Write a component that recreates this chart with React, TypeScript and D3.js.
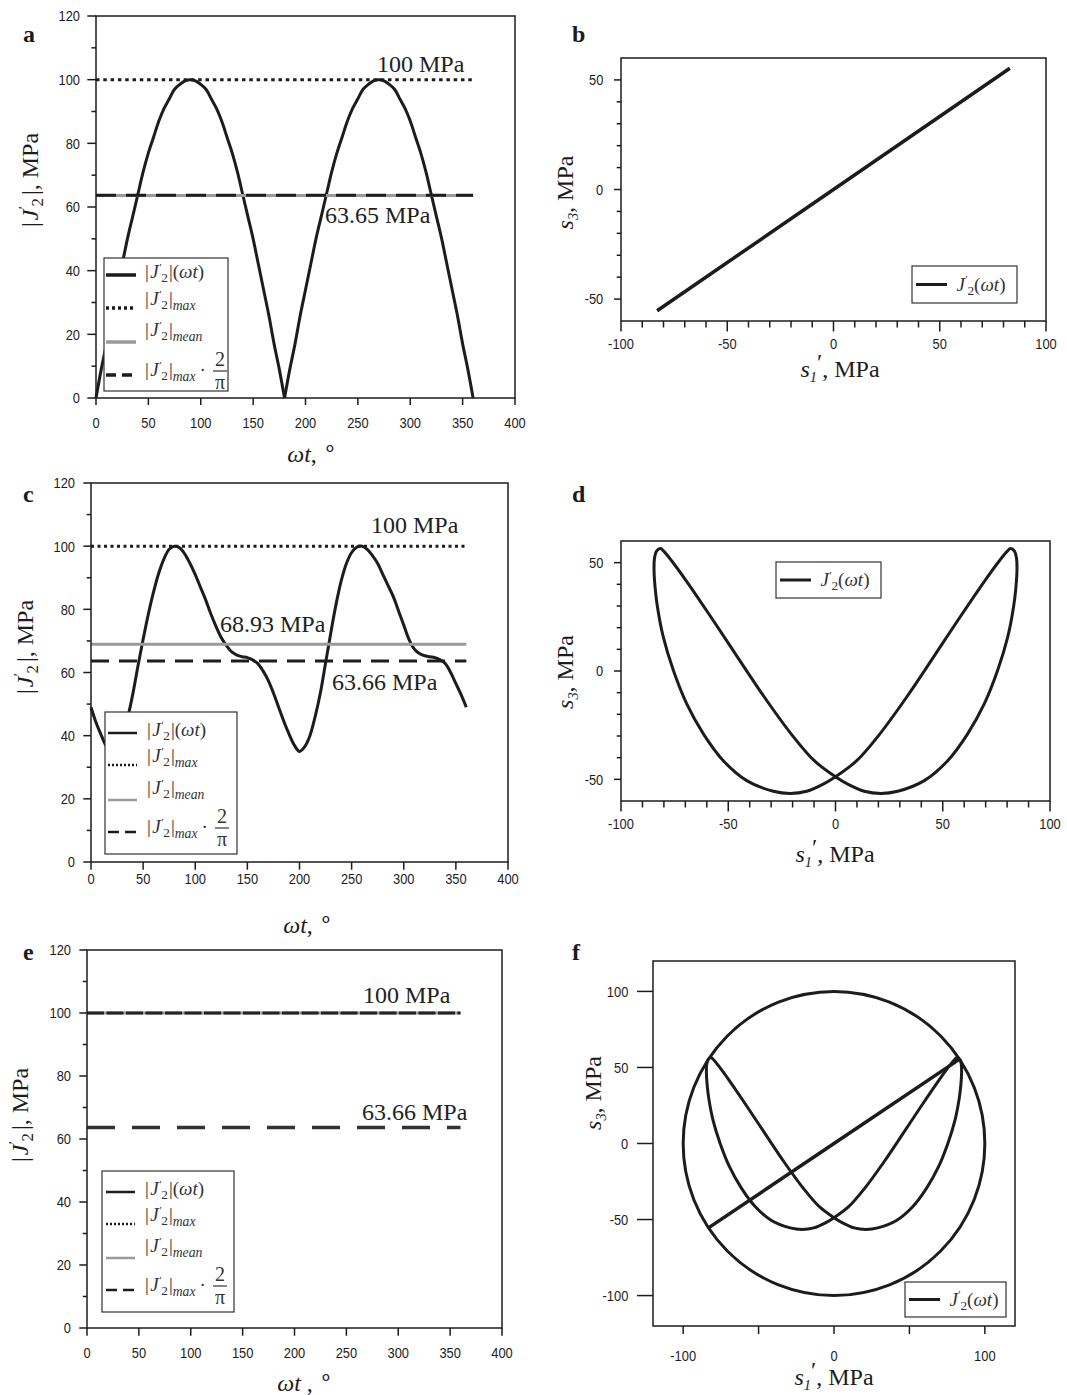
import React from "react";
import * as d3 from "d3";

// ---- values ----
// sample angles (degrees) for the |J2'| curves
const angle = [0, 5, 10, 15, 20, 25, 30, 35, 40, 45, 50, 55, 60, 65, 70, 75, 80, 85, 90, 95, 100, 105, 110, 115, 120, 125, 130, 135, 140, 145, 150, 155, 160, 165, 170, 175, 180, 185, 190, 195, 200, 205, 210, 215, 220, 225, 230, 235, 240, 245, 250, 255, 260, 265, 270, 275, 280, 285, 290, 295, 300, 305, 310, 315, 320, 325, 330, 335, 340, 345, 350, 355, 360];

// panel a: proportional loading
const j2A = [0, 9, 17, 26, 34, 42, 50, 57, 64, 71, 77, 82, 87, 91, 94, 97, 98.5, 99.6, 100, 99.6, 98.5, 97, 94, 91, 87, 82, 77, 71, 64, 57, 50, 42, 34, 26, 17, 9, 0, 9, 17, 26, 34, 42, 50, 57, 64, 71, 77, 82, 87, 91, 94, 97, 98.5, 99.6, 100, 99.6, 98.5, 97, 94, 91, 87, 82, 77, 71, 64, 57, 50, 42, 34, 26, 17, 9, 0];
// panel c: non-proportional loading
const j2C = [49, 44, 40, 36.5, 35, 36.5, 40, 45.5, 53, 62, 70.5, 78.5, 85.5, 91.5, 96, 99, 100, 99.5, 97.5, 94.5, 91, 87, 83, 78.5, 74.5, 71, 68.5, 66.5, 65.5, 65, 64.7, 64, 62.8, 60.5, 57.5, 53.5, 49, 44.5, 40.5, 37, 35, 36.5, 40, 46, 53.5, 63, 72.5, 81.5, 89, 94.5, 98, 99.7, 100, 99, 97, 94.5, 91, 87.5, 84, 79.5, 75, 70.5, 67.5, 66, 65.3, 65, 64.7, 64, 62.8, 60, 56.5, 53, 49];
// panel e: circular path, constant value
const angE = [0, 360];
const j2E = [100, 100];

const levelsA = { max: 100, mean: 63.65, twoPi: 63.66 };
const levelsC = { max: 100, mean: 68.93, twoPi: 63.66 };
const levelsE = { max: 100, mean: 100, twoPi: 63.66 };

// panel b: straight path in the s1'-s3 plane
const s1B = [-83, 0, 83];
const s3B = [-55.3, 0, 55.3];

// panels d, f: closed loop
const s1D = [-81.6, -83.5, -84.4, -84.6, -84.1, -83, -80.3, -75.6, -69.4, -61.6, -52.3, -41.4, -29, -21.2, -13.4, -5.7, 0, 9.9, 20.7, 33.2, 45.6, 58, 69.5, 76.5, 80, 81.6, 83.5, 84.4, 84.6, 84.1, 83, 80.3, 75.6, 69.4, 61.6, 52.3, 41.4, 29, 21.2, 13.4, 5.7, 0, -9.9, -20.7, -33.2, -45.6, -58, -69.5, -76.5, -80];
const s3D = [56.5, 55.2, 52, 46.6, 38.5, 29.5, 15.7, 0.3, -15.1, -29, -41.4, -50.6, -55.5, -56.5, -55.5, -52.2, -48.8, -41.4, -29, -12, 6.3, 24.8, 41.5, 51, 55.2, 56.5, 55.2, 52, 46.6, 38.5, 29.5, 15.7, 0.3, -15.1, -29, -41.4, -50.6, -55.5, -56.5, -55.5, -52.2, -48.8, -41.4, -29, -12, 6.3, 24.8, 41.5, 51, 55.2];

const circleR = 100;

// ticks
const tX = [0, 50, 100, 150, 200, 250, 300, 350, 400];
const tY = [0, 20, 40, 60, 80, 100, 120];
const tYMinor = [10, 30, 50, 70, 90, 110];
const sX = [-100, -50, 0, 50, 100];
const sXMinor = [-90, -80, -70, -60, -40, -30, -20, -10, 10, 20, 30, 40, 60, 70, 80, 90];
const sY = [-50, 0, 50];
const sYMinor = [-40, -30, -20, -10, 10, 20, 30, 40];
const fX = [-100, 0, 100];
const fXMinor = [-50, 50];
const fY = [-100, -50, 0, 50, 100];

const serif = "'Liberation Serif', 'Times New Roman', serif";
const sans = "'Liberation Sans', Arial, sans-serif";
const ink = "#1c1c1c";
const grey = "#9a9a9a";

type Scale = d3.ScaleLinear<number, number>;

function Axes(p: {
  x: Scale; y: Scale; xt: number[]; xm?: number[]; xLab?: number[]; yt: number[]; ym?: number[];
  xLen: number; xmLen: number; yLen: number; ymLen: number; xLabY: number; yLabX: number;
}) {
  const [l, r] = p.x.range();
  const [b, t] = p.y.range();
  const xm = p.xm || [];
  const ym = p.ym || [];
  const xLab = p.xLab || p.xt;
  return (
    <g>
      <g stroke={ink} strokeWidth={1.5} fill="none">
        <rect x={l} y={t} width={r - l} height={b - t} />
        {p.xt.map(v => <line key={"xt" + v} x1={p.x(v)} x2={p.x(v)} y1={b} y2={b + p.xLen} />)}
        {xm.map(v => <line key={"xm" + v} x1={p.x(v)} x2={p.x(v)} y1={b} y2={b + p.xmLen} />)}
        {p.yt.map(v => <line key={"yt" + v} x1={l} x2={l - p.yLen} y1={p.y(v)} y2={p.y(v)} />)}
        {ym.map(v => <line key={"ym" + v} x1={l} x2={l - p.ymLen} y1={p.y(v)} y2={p.y(v)} />)}
      </g>
      <g fill={ink} fontFamily={sans} fontSize={15}>
        {xLab.map(v => (
          <text key={"xl" + v} transform={`translate(${p.x(v)},${p.xLabY}) scale(0.86,1)`} textAnchor="middle">{v}</text>
        ))}
        {p.yt.map(v => (
          <text key={"yl" + v} transform={`translate(${p.yLabX},${p.y(v)}) scale(0.86,1)`} dy="0.36em" textAnchor="end">{v}</text>
        ))}
      </g>
    </g>
  );
}

// J'_2 : small raised prime, then the lowered 2; caller restores the baseline (dy = -0.22 fs)
function jp(fs: number, k: string) {
  return [
    <tspan key={k + "J"} fontStyle="italic" dx={fs * 0.08}>J</tspan>,
    <tspan key={k + "p"} fontSize={fs * 0.6} dy={-fs * 0.38} dx={fs * 0.02}>′</tspan>,
    <tspan key={k + "s"} fontSize={fs * 0.7} dx={-fs * 0.02} dy={fs * 0.6}>2</tspan>,
  ];
}

function YTitleJ({ cx, cy }: { cx: number; cy: number }) {
  const fs = 24;
  return (
    <text transform={`translate(${cx + fs * 0.33},${cy}) rotate(-90)`} textAnchor="middle"
      fontFamily={serif} fontSize={fs} fill={ink}>
      <tspan>|</tspan>{jp(fs, "y")}<tspan dy={-fs * 0.22} dx={3}>|, MPa</tspan>
    </text>
  );
}

function XTitleT({ cx, y, gap }: { cx: number; y: number; gap?: boolean }) {
  const fs = 24;
  return (
    <text x={cx} y={y} textAnchor="middle" fontFamily={serif} fontSize={fs} fill={ink}>
      <tspan fontStyle="italic">ωt</tspan><tspan>{gap ? " ," : ","}</tspan>
      <tspan dx={6} fontSize={fs * 0.9} dy={-fs * 0.3}>∘</tspan>
    </text>
  );
}

function YTitleS({ cx, cy }: { cx: number; cy: number }) {
  const fs = 24;
  return (
    <text transform={`translate(${cx + fs * 0.33},${cy}) rotate(-90)`} textAnchor="middle"
      fontFamily={serif} fontSize={fs} fill={ink}>
      <tspan fontStyle="italic">s</tspan>
      <tspan fontStyle="italic" fontSize={fs * 0.6} dy={fs * 0.22}>3</tspan>
      <tspan dy={-fs * 0.22}>, MPa</tspan>
    </text>
  );
}

function XTitleS({ cx, y }: { cx: number; y: number }) {
  const fs = 24;
  return (
    <text x={cx} y={y} textAnchor="middle" fontFamily={serif} fontSize={fs} fill={ink}>
      <tspan fontStyle="italic">s</tspan>
      <tspan fontStyle="italic" fontSize={fs * 0.6} dy={fs * 0.22}>1</tspan>
      <tspan dy={-fs * 0.5}>′</tspan>
      <tspan dy={fs * 0.28}>, MPa</tspan>
    </text>
  );
}

function Letter({ x, y, t }: { x: number; y: number; t: string }) {
  return <text x={x} y={y} fontFamily={serif} fontWeight="bold" fontSize={24} fill={ink}>{t}</text>;
}

function Note({ x, y, t }: { x: number; y: number; t: string }) {
  return <text x={x} y={y} fontFamily={serif} fontSize={24} fill="#222">{t}</text>;
}

type LegendCfg = {
  x: number; y: number; w: number; h: number; ly: number[]; sx: [number, number]; tx: number;
  sw: number; dot: string; dash: string;
};

function TimeLegend({ c }: { c: LegendCfg }) {
  const fs = 19;
  const sub = (s: string) => (
    <tspan fontStyle="italic" fontSize={fs * 0.72} dy={fs * 0.24}>{s}</tspan>
  );
  const fx = c.tx + 75;
  return (
    <g>
      <rect x={c.x} y={c.y} width={c.w} height={c.h} fill="white" stroke="#333" strokeWidth={1.2} />
      <line x1={c.sx[0]} x2={c.sx[1]} y1={c.ly[0]} y2={c.ly[0]} stroke={ink} strokeWidth={c.sw} />
      <line x1={c.sx[0]} x2={c.sx[1]} y1={c.ly[1]} y2={c.ly[1]} stroke={ink} strokeWidth={c.sw} strokeDasharray={c.dot} />
      <line x1={c.sx[0]} x2={c.sx[1]} y1={c.ly[2]} y2={c.ly[2]} stroke={grey} strokeWidth={c.sw} />
      <line x1={c.sx[0]} x2={c.sx[1]} y1={c.ly[3]} y2={c.ly[3]} stroke={ink} strokeWidth={c.sw} strokeDasharray={c.dash} />
      <g fontFamily={serif} fontSize={fs} fill="#333">
        <text x={c.tx} y={c.ly[0] + 3}>
          <tspan>|</tspan>{jp(fs, "a")}<tspan dy={-fs * 0.22} dx={1}>|(</tspan><tspan fontStyle="italic">ωt</tspan><tspan>)</tspan>
        </text>
        <text x={c.tx} y={c.ly[1] - 3}>
          <tspan>|</tspan>{jp(fs, "b")}<tspan dy={-fs * 0.22} dx={1}>|</tspan>{sub("max")}
        </text>
        <text x={c.tx} y={c.ly[2] - 6}>
          <tspan>|</tspan>{jp(fs, "c")}<tspan dy={-fs * 0.22} dx={1}>|</tspan>{sub("mean")}
        </text>
        <text x={c.tx} y={c.ly[3] + 1}>
          <tspan>|</tspan>{jp(fs, "d")}<tspan dy={-fs * 0.22} dx={1}>|</tspan>{sub("max")}
          <tspan dy={-fs * 0.24} dx={4}>·</tspan>
        </text>
        <text x={fx} y={c.ly[3] - 9} textAnchor="middle" fontSize={20}>2</text>
        <line x1={fx - 7} x2={fx + 7} y1={c.ly[3] - 4} y2={c.ly[3] - 4} stroke="#333" strokeWidth={1.2} />
        <text x={fx} y={c.ly[3] + 14} textAnchor="middle" fontSize={20}>π</text>
      </g>
    </g>
  );
}

function PathLegend({ x, y, w, h }: { x: number; y: number; w: number; h: number }) {
  const fs = 19;
  return (
    <g>
      <rect x={x} y={y} width={w} height={h} fill="white" stroke="#333" strokeWidth={1.2} />
      <line x1={x + 4} x2={x + 35} y1={y + h / 2} y2={y + h / 2} stroke={ink} strokeWidth={3} />
      <text x={x + 43} y={y + h / 2 + 6} fontFamily={serif} fontSize={fs} fill="#333">
        {jp(fs, "l")}<tspan dy={-fs * 0.22}>(</tspan><tspan fontStyle="italic">ωt</tspan><tspan>)</tspan>
      </text>
    </g>
  );
}

function timeScales(l: number, r: number, t: number, b: number) {
  const x = d3.scaleLinear().domain([0, 400]).range([l, r]);
  const y = d3.scaleLinear().domain([0, 120]).range([b, t]);
  return { x, y };
}

export default function App() {
  const A = timeScales(96, 515, 16, 398);
  const C = timeScales(91, 508, 483, 862);
  const E = timeScales(87, 502, 950, 1328);

  // panel a: one smooth arch per half cycle so the zeros stay sharp
  const arch = d3.line<number>().x(i => A.x(angle[i])).y(i => A.y(j2A[i])).curve(d3.curveCatmullRom);
  const zeros = j2A.map((v, i) => (v === 0 ? i : -1)).filter(i => i >= 0);
  const archesA = zeros.slice(1).map((end, k) => arch(d3.range(zeros[k], end + 1)) || "");

  const pathC = d3.line<number>().x((_, i) => C.x(angle[i])).y(d => C.y(d)).curve(d3.curveCatmullRom)(j2C) || "";
  const pathE = d3.line<number>().x((_, i) => E.x(angE[i])).y(d => E.y(d))(j2E) || "";

  const xb = d3.scaleLinear().domain([-100, 100]).range([621, 1046]);
  const yb = d3.scaleLinear().domain([-60, 60]).range([321, 58]);
  const xd = d3.scaleLinear().domain([-100, 100]).range([621, 1050]);
  const yd = d3.scaleLinear().domain([-60, 60]).range([801, 541]);
  const xf = d3.scaleLinear().domain([-120, 120]).range([653, 1015]);
  const yf = d3.scaleLinear().domain([-120, 120]).range([1326, 961]);

  const pathB = d3.line<number>().x(d => xb(d)).y((_, i) => yb(s3B[i]))(s1B) || "";
  const loop = (x: Scale, y: Scale) =>
    d3.line<number>().x(d => x(d)).y((_, i) => y(s3D[i])).curve(d3.curveCatmullRomClosed.alpha(0.5))(s1D) || "";
  const pathF = d3.line<number>().x(d => xf(d)).y((_, i) => yf(s3B[i]))(s1B) || "";

  const hline = (P: { x: Scale; y: Scale }, v: number) => ({ x1: P.x(0), x2: P.x(360), y1: P.y(v), y2: P.y(v) });

  return (
    <svg width={1067} height={1395} style={{ position: "absolute", left: 0, top: 0, background: "white" }}>
      <rect width={1067} height={1395} fill="white" />

      {/* ---- a ---- */}
      {archesA.map((d, i) => <path key={"arch" + i} d={d} fill="none" stroke={ink} strokeWidth={3} />)}
      <line {...hline(A, levelsA.max)} stroke={ink} strokeWidth={3} strokeDasharray="3.5 3.8" />
      <line {...hline(A, levelsA.mean)} stroke={grey} strokeWidth={3} />
      <line {...hline(A, levelsA.twoPi)} stroke={ink} strokeWidth={3} strokeDasharray="20 10" />
      <Axes x={A.x} y={A.y} xt={tX} yt={tY} ym={tYMinor} xLen={7} xmLen={0} yLen={8.7} ymLen={4.5} xLabY={427.7} yLabX={80} />
      <TimeLegend c={{ x: 104, y: 258, w: 124, h: 133, ly: [275, 308, 342, 375], sx: [106, 136], tx: 145, sw: 3.5, dot: "3 3", dash: "10 6" }} />
      <Note x={377} y={72} t="100 MPa" />
      <Note x={325} y={223} t="63.65 MPa" />
      <YTitleJ cx={30} cy={180} />
      <XTitleT cx={312} y={462} />
      <Letter x={23} y={42} t="a" />

      {/* ---- b ---- */}
      <path d={pathB} fill="none" stroke={ink} strokeWidth={3.5} />
      <Axes x={xb} y={yb} xt={sX} xm={sXMinor} yt={sY} ym={sYMinor} xLen={10.5} xmLen={6.5} yLen={7} ymLen={4.3} xLabY={348.5} yLabX={603.3} />
      <PathLegend x={912} y={266} w={105} h={37} />
      <YTitleS cx={565} cy={192.5} />
      <XTitleS cx={840} y={377} />
      <Letter x={572} y={42} t="b" />

      {/* ---- c ---- */}
      <path d={pathC} fill="none" stroke={ink} strokeWidth={3} />
      <line {...hline(C, levelsC.max)} stroke={ink} strokeWidth={3} strokeDasharray="3 3.5" />
      <line {...hline(C, levelsC.mean)} stroke={grey} strokeWidth={3} />
      <line {...hline(C, levelsC.twoPi)} stroke={ink} strokeWidth={3} strokeDasharray="18 10" />
      <Axes x={C.x} y={C.y} xt={tX} yt={tY} ym={tYMinor} xLen={7.7} xmLen={0} yLen={7.7} ymLen={4.3} xLabY={883.5} yLabX={75} />
      <TimeLegend c={{ x: 105, y: 712, w: 132, h: 142, ly: [733, 765, 800, 832], sx: [108, 137], tx: 147, sw: 2.5, dot: "2 2", dash: "11 6" }} />
      <Note x={371} y={533} t="100 MPa" />
      <Note x={220} y={632} t="68.93 MPa" />
      <Note x={332} y={690} t="63.66 MPa" />
      <YTitleJ cx={25} cy={647} />
      <XTitleT cx={308} y={933} />
      <Letter x={23} y={502} t="c" />

      {/* ---- d ---- */}
      <path d={loop(xd, yd)} fill="none" stroke={ink} strokeWidth={3} />
      <Axes x={xd} y={yd} xt={sX} xm={sXMinor} yt={sY} ym={sYMinor} xLen={10.5} xmLen={6.5} yLen={7} ymLen={4.3} xLabY={828.5} yLabX={603.3} />
      <PathLegend x={776} y={562} w={105} h={36} />
      <YTitleS cx={565} cy={672} />
      <XTitleS cx={835} y={862} />
      <Letter x={572} y={502} t="d" />

      {/* ---- e ---- */}
      <line {...hline(E, levelsE.mean)} stroke={grey} strokeWidth={3} />
      <path d={pathE} fill="none" stroke="#222" strokeWidth={3} strokeDasharray="17 2.5" />
      <line {...hline(E, levelsE.twoPi)} stroke="#333" strokeWidth={3.5} strokeDasharray="28 17" />
      <Axes x={E.x} y={E.y} xt={tX} yt={tY} ym={tYMinor} xLen={7.7} xmLen={0} yLen={7.7} ymLen={4.3} xLabY={1357.7} yLabX={71} />
      <TimeLegend c={{ x: 102, y: 1171, w: 132, h: 141, ly: [1192, 1224, 1258, 1290], sx: [106, 135], tx: 145, sw: 2.5, dot: "2 2", dash: "11 6" }} />
      <Note x={363} y={1003} t="100 MPa" />
      <Note x={362} y={1120} t="63.66 MPa" />
      <YTitleJ cx={20} cy={1115} />
      <XTitleT cx={305} y={1391} gap />
      <Letter x={23} y={960} t="e" />

      {/* ---- f ---- */}
      <ellipse cx={xf(0)} cy={yf(0)} rx={xf(circleR) - xf(0)} ry={yf(0) - yf(circleR)} fill="none" stroke={ink} strokeWidth={3} />
      <path d={loop(xf, yf)} fill="none" stroke={ink} strokeWidth={3} />
      <path d={pathF} fill="none" stroke={ink} strokeWidth={3.5} />
      <Axes x={xf} y={yf} xt={fX} xm={fXMinor} yt={fY} xLen={8} xmLen={8} yLen={16} ymLen={0} xLabY={1360.5} yLabX={628.3} />
      <PathLegend x={905} y={1282} w={101} h={35} />
      <YTitleS cx={593} cy={1093} />
      <XTitleS cx={834} y={1385} />
      <Letter x={572} y={960} t="f" />
    </svg>
  );
}
